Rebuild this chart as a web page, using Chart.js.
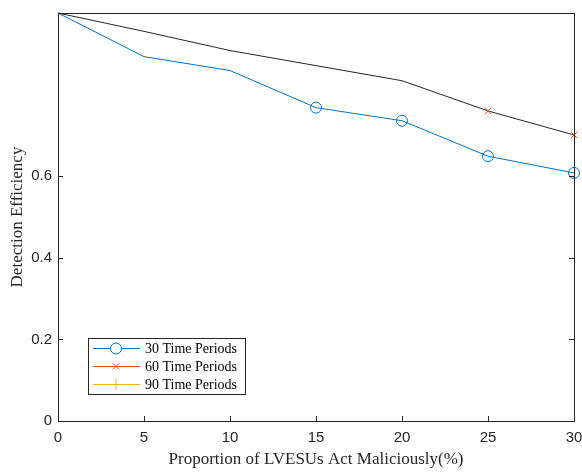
<!DOCTYPE html>
<html>
<head>
<meta charset="utf-8">
<script src="https://cdn.jsdelivr.net/npm/chart.js@4/dist/chart.umd.min.js"></script>
<style>
  html, body { margin: 0; padding: 0; background: #fff; }
  #wrap { width: 582px; height: 472px; }
</style>
</head>
<body>
<div id="wrap"><canvas id="chart" width="582" height="472"></canvas></div>
<script>
// data
const xValues = [0, 5, 10, 15, 20, 25, 30];
const series30 = [1.0, 0.893, 0.859, 0.768, 0.736, 0.649, 0.608];
const series60 = [1.0, 0.955, 0.908, 0.871, 0.834, 0.760, 0.701];
const series90 = []; // hidden under the others, nothing visible
const xTicks = [0, 5, 10, 15, 20, 25, 30];
const yTicks = [0, 0.2, 0.4, 0.6];
const labels = ['30 Time Periods', '60 Time Periods', '90 Time Periods'];

const axisColor = '#262626';
const toPoints = (ys) => ys.map((y, i) => ({ x: xValues[i], y }));

// box + inward ticks, matlab style
const boxTicks = {
    id: 'boxTicks',
    afterDraw(chart) {
        const { ctx, chartArea: a, scales } = chart;
        ctx.save();
        ctx.strokeStyle = axisColor;
        ctx.lineWidth = 1;
        ctx.strokeRect(a.left + 0.5, a.top + 0.5, a.right - a.left, a.bottom - a.top);
        ctx.beginPath();
        xTicks.forEach(v => {
            const px = Math.round(scales.x.getPixelForValue(v)) + 0.5;
            ctx.moveTo(px, a.bottom);
            ctx.lineTo(px, a.bottom - 5);
        });
        yTicks.forEach(v => {
            const py = Math.round(scales.y.getPixelForValue(v)) + 0.5;
            ctx.moveTo(a.left, py);
            ctx.lineTo(a.left + 5, py);
            ctx.moveTo(a.right, py);
            ctx.lineTo(a.right - 5, py);
        });
        ctx.stroke();
        ctx.restore();
    }
};

// legend drawn inside the axes, bottom left
const innerLegend = {
    id: 'innerLegend',
    afterDraw(chart) {
        const { ctx } = chart;
        const x0 = 88, y0 = 338, w = 157, h = 56;
        ctx.save();
        ctx.fillStyle = '#fff';
        ctx.fillRect(x0, y0, w, h);
        ctx.strokeStyle = '#262626';
        ctx.lineWidth = 1;
        ctx.strokeRect(x0 + 0.5, y0 + 0.5, w, h);
        ctx.font = '14px "Liberation Serif", "Times New Roman", serif';
        ctx.textBaseline = 'middle';
        chart.data.datasets.forEach((ds, i) => {
            const y = y0 + 10 + i * 18;
            ctx.strokeStyle = ds.legendColor;
            ctx.lineWidth = 1;
            ctx.beginPath();
            ctx.moveTo(x0 + 5, y + 0.5);
            ctx.lineTo(x0 + 52, y + 0.5);
            ctx.stroke();
            Chart.helpers.drawPoint(ctx, { pointStyle: ds.pointStyle, radius: ds.legendRadius, borderWidth: 1, rotation: 0 }, x0 + 28, y + 0.5);
            ctx.fillStyle = '#000';
            ctx.fillText(ds.label, x0 + 57, y + 1);
        });
        ctx.restore();
    }
};

const ctx = document.getElementById('chart').getContext('2d');
new Chart(ctx, {
    type: 'line',
    data: {
        datasets: [
            {
                label: labels[0],
                data: toPoints(series30),
                borderColor: '#0072BD',
                legendColor: '#0072BD',
                borderWidth: 1,
                pointStyle: 'circle',
                pointRadius: c => (c.dataIndex >= 3 ? 5.5 : 0),
                legendRadius: 5.5,
                pointBorderColor: '#0072BD',
                pointBackgroundColor: 'rgba(0,0,0,0)',
                pointBorderWidth: 1,
                clip: false,
                order: 2
            },
            {
                label: labels[1],
                data: toPoints(series60),
                borderColor: '#262626',
                legendColor: '#D95319',
                borderWidth: 1,
                pointStyle: 'crossRot',
                pointRadius: c => (c.dataIndex >= 5 ? 4.5 : 0),
                legendRadius: 4.5,
                pointBorderColor: '#D95319',
                pointBorderWidth: 1,
                clip: false,
                order: 1
            },
            {
                label: labels[2],
                data: toPoints(series90),
                borderColor: '#EDB120',
                legendColor: '#EDB120',
                borderWidth: 1,
                pointStyle: 'cross',
                pointRadius: 5,
                legendRadius: 6,
                pointBorderColor: '#EDB120',
                clip: false,
                order: 3
            }
        ]
    },
    options: {
        responsive: false,
        animation: false,
        layout: { padding: { top: 13, right: 8, left: 7, bottom: 0 } },
        plugins: {
            legend: { display: false },
            tooltip: { enabled: false }
        },
        elements: { line: { tension: 0 } },
        scales: {
            x: {
                type: 'linear',
                min: 0,
                max: 30,
                afterBuildTicks: s => { s.ticks = xTicks.map(v => ({ value: v })); },
                afterFit: s => { s.height = 51; s.paddingLeft = 0; s.paddingRight = 0; },
                grid: { display: false, drawTicks: false },
                border: { display: false },
                ticks: {
                    padding: 8,
                    maxRotation: 0,
                    color: axisColor,
                    font: { family: '"Liberation Sans", Arial, sans-serif', size: 15 }
                },
                title: {
                    display: true,
                    text: 'Proportion of LVESUs Act Maliciously(%)',
                    color: axisColor,
                    padding: { top: 0, bottom: 2 },
                    font: { family: '"Liberation Serif", "Times New Roman", serif', size: 17 }
                }
            },
            y: {
                min: 0,
                max: 1,
                afterBuildTicks: s => { s.ticks = yTicks.map(v => ({ value: v })); },
                afterFit: s => { s.width = 51; s.paddingTop = 0; s.paddingBottom = 0; },
                grid: { display: false, drawTicks: false },
                border: { display: false },
                ticks: {
                    padding: 6,
                    color: axisColor,
                    font: { family: '"Liberation Sans", Arial, sans-serif', size: 15 },
                    callback: v => String(v)
                },
                title: {
                    display: true,
                    text: 'Detection Efficiency',
                    color: axisColor,
                    padding: { top: 0, bottom: 0 },
                    font: { family: '"Liberation Serif", "Times New Roman", serif', size: 17 }
                }
            }
        }
    },
    plugins: [boxTicks, innerLegend]
});
</script>
</body>
</html>
